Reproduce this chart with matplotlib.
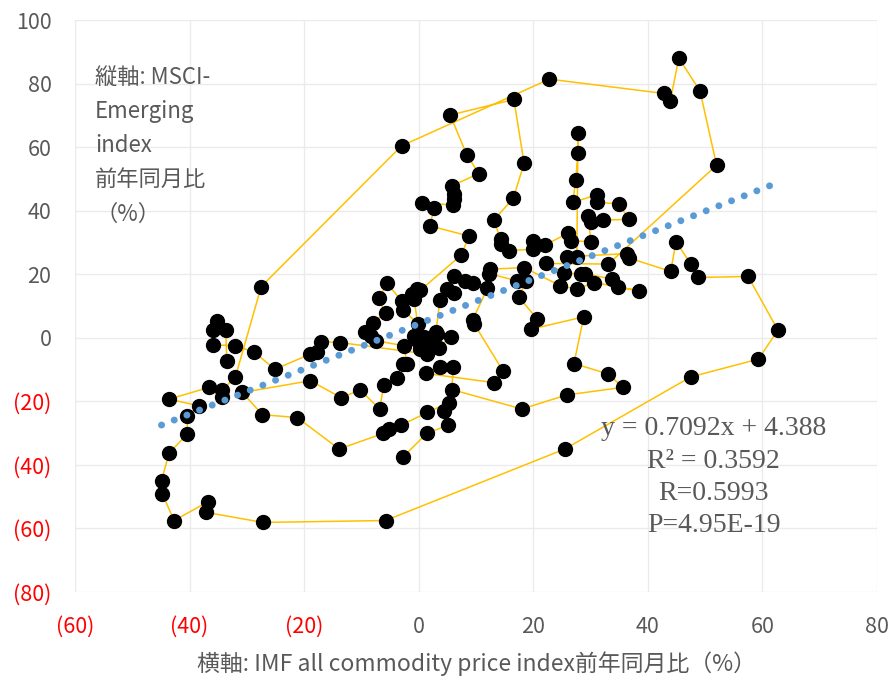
import numpy as np
import matplotlib
matplotlib.use("Agg")
from matplotlib import pyplot as plt
from matplotlib.ticker import FuncFormatter, MultipleLocator

plt.rcParams['font.family'] = ['Noto Sans CJK JP', 'DejaVu Sans']

# path of monthly points (IMF commodity YoY %, MSCI EM YoY %), in drawing order
commodity = [
  -2.7, 1.4, 5.1, 4.4, 5.2, 1.5, -3.1, -5.2, -6.2, -13.9, -21.2, -27.3, -30.8, -18.9, -13.6,
  -10.2, -6.8, -6.1, -3.8, -2.8, -2.0, -2.6, -7.5, -8.4, -9.3, -8.0, -5.8, -7.0, -5.5, -3.0,
  -2.7, -0.2, -0.8, -1.1, -0.3, 0.3, 7.4, 8.8, 2.0, 2.6, 0.5, 5.9, 6.2, 6.2, 5.8,
  10.5, 8.4, 5.5, 16.6, 18.4, 16.5, 13.1, 14.3, 14.3, 15.8, 19.9, 19.9, 22.0, 26.0, 26.5,
  30.1, 29.5, 30.0, 32.2, 36.7, 34.9, 31.1, 31.1, 26.9, 27.4, 27.8, 27.8, 27.6, 25.8, 36.3,
  36.7, 44.0, 44.9, 47.5, 48.8, 57.5, 62.7, 59.3, 47.5, 25.5, -5.8, -27.2, -37.2, -36.8, -42.7,
  -44.8, -44.9, -43.6, -40.4, -40.4, -38.4, -43.6, -36.6, -34.3, -34.3, -32.0, -27.5, -3.0, 22.8, 42.8,
  43.9, 45.4, 49.1, 52.0, 33.1, 22.2, 25.4, 28.3, 29.0, 33.7, 34.7, 38.4, 30.6, 27.6, 24.7,
  18.4, 12.5, 12.3, 17.2, 18.7, 17.5, 20.7, 19.6, 28.8, 27.1, 33.1, 35.6, 25.8, 18.0, 5.8,
  6.0, 3.7, 1.2, 13.1, 14.7, 9.7, 9.4, 12.0, 9.4, 8.0, 6.1, 5.0, 6.2, 3.7, 3.0,
  3.2, 5.6, 3.5, 2.1, 0.9, -0.8, -0.2, 0.3, 1.5, -13.7, -17.1, -17.7, -18.9, -25.1, -28.8,
  -32.1, -35.9, -36.0, -35.2, -33.7, -33.5,
]
msci = [
  -37.4, -30.1, -27.5, -23.0, -20.4, -23.5, -27.5, -28.7, -30.1, -35.0, -25.1, -24.2, -17.2, -13.5, -18.8,
  -16.5, -22.4, -14.8, -12.5, -8.3, -8.3, -2.5, -0.9, 0.6, 1.7, 4.8, 7.8, 12.4, 17.1, 11.6,
  8.7, 4.5, 12.2, 13.9, 15.3, 15.0, 26.0, 32.0, 35.2, 40.7, 42.5, 41.8, 43.6, 45.2, 47.8,
  51.7, 57.5, 70.1, 75.0, 54.9, 43.9, 37.0, 31.0, 29.5, 27.4, 27.9, 30.5, 29.1, 32.9, 30.5,
  30.3, 38.4, 36.3, 37.0, 37.3, 42.2, 42.6, 45.0, 42.6, 49.7, 58.1, 64.4, 25.5, 25.5, 26.5,
  25.1, 20.9, 30.3, 23.2, 19.0, 19.3, 2.4, -6.7, -12.3, -35.0, -57.5, -58.1, -54.9, -51.6, -57.5,
  -49.0, -45.0, -36.3, -30.3, -24.7, -21.4, -19.3, -15.6, -18.6, -16.5, -12.3, 16.1, 60.4, 81.4, 76.9,
  74.5, 88.0, 77.7, 54.3, 23.2, 23.4, 20.5, 20.0, 20.2, 18.5, 16.0, 14.8, 17.4, 15.3, 16.4,
  22.1, 21.6, 20.2, 17.9, 17.9, 12.7, 5.9, 2.7, 6.6, -8.1, -11.4, -15.6, -18.0, -22.4, -16.3,
  -9.1, -9.1, -11.2, -14.1, -10.4, 4.3, 5.6, 15.6, 17.4, 17.9, 19.5, 15.3, 14.2, 11.9, 1.7,
  1.2, 0.4, -3.1, -1.5, 0.1, 0.6, -0.9, -3.6, -5.1, -1.5, -1.2, -4.6, -5.1, -9.9, -4.4,
  -2.5, -2.2, 2.4, 5.3, 2.4, -7.2,
]

slope = 0.7092
intercept = 4.388
stats_lines = ["y = 0.7092x + 4.388", "R² = 0.3592", "R=0.5993", "P=4.95E-19"]

ylabel_text = "縦軸: MSCI-\nEmerging\nindex\n前年同月比\n（%）"
xlabel_text = "横軸: IMF all commodity price index前年同月比（%）"

x = np.array(commodity)
y = np.array(msci)

fig = plt.figure(figsize=(8.9, 6.79), dpi=100)
ax = fig.add_axes([0.0843, 0.1281, 0.9011, 0.8424])

ax.plot(x, y, color='#FFC000', lw=1.1, zorder=2)
ax.plot(x, y, 'o', color='black', ms=10, zorder=3)

# linear trend (Excel style dotted)
xt = np.array([x.min(), x.max() - 0.6])
ax.plot(xt, slope * xt + intercept, color='#5B9BD5', lw=5,
        linestyle=(0, (0.01, 1.95)), dash_capstyle='round', zorder=4)

ax.set_xlim(-60, 80)
ax.set_ylim(-80, 100)
ax.xaxis.set_major_locator(MultipleLocator(20))
ax.yaxis.set_major_locator(MultipleLocator(20))

def paren(v, pos):
  v = int(round(v))
  return f"({abs(v)})" if v < 0 else f"{v}"

ax.xaxis.set_major_formatter(FuncFormatter(paren))
ax.yaxis.set_major_formatter(FuncFormatter(paren))
ax.grid(True, color='#ebebeb', lw=1.0, zorder=0)
ax.set_axisbelow(True)
for sp in ax.spines.values():
  sp.set_visible(False)
ax.tick_params(length=0, labelsize=15.5)
ax.tick_params(axis='x', pad=17)
ax.tick_params(axis='y', pad=17)

fig.canvas.draw()
for lab in ax.get_xticklabels() + ax.get_yticklabels():
  if lab.get_text().startswith("("):
    lab.set_color('#FF0000')
  else:
    lab.set_color('#595959')

ax.set_xlabel(xlabel_text, fontsize=16.5, color='#595959', labelpad=10)

ax.text(0.025, 0.92, ylabel_text, transform=ax.transAxes, fontsize=16,
        color='#595959', va='top', ha='left', linespacing=1.62)

for i, s in enumerate(stats_lines):
  ax.text(51.5, -28.6 - i * 10.2, s, fontsize=20, color='#595959',
          family='Liberation Serif', ha='center', va='center', zorder=5)

fig.savefig('out.png', dpi=100)
